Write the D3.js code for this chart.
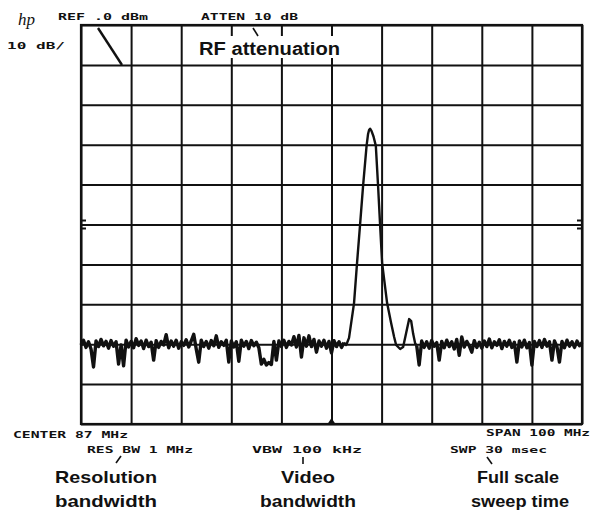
<!DOCTYPE html>
<html><head><meta charset="utf-8">
<script src="https://cdn.jsdelivr.net/npm/d3@7"></script>
<style>body{margin:0;background:#fff}</style>
</head><body>
<svg id="c" width="593" height="512"></svg>
<script>
// ---- data ----
const freqGrid = [37,47,57,67,77,87,97,107,117,127,137];          // MHz (center 87, span 100)
const levelGrid = [0,-10,-20,-30,-40,-50,-60,-70,-80,-90,-100];   // dBm, 10 dB/div
const noiseStep = 0.5;
const noiseLeftStart = 37;
const noiseLeft = [
  -80.2,-79.0,-80.8,-79.4,-81.2,-85.7,-79.2,-80.6,-78.8,-80.4,
  -79.3,-81.0,-79.1,-80.5,-79.4,-85.0,-80.2,-85.4,-79.0,-80.7,
  -79.3,-80.9,-78.6,-80.3,-79.2,-81.1,-79.0,-80.6,-79.5,-84.0,
  -79.1,-80.8,-79.3,-80.2,-77.6,-80.9,-79.2,-80.5,-79.0,-81.0,
  -79.4,-80.3,-78.9,-80.7,-79.2,-77.5,-81.2,-84.5,-79.0,-80.6,
  -79.3,-81.0,-79.1,-80.4,-77.9,-80.8,-79.4,-80.3,-79.0,-84.5,
  -79.2,-80.7,-79.4,-84.3,-79.0,-80.5,-79.3,-81.1,-79.1,-80.4,
  -79.5,-80.9,-85.0,-83.8,-85.2,-84.6,-85.1,-79.3,-84.0,-79.2,
  -80.6,-79.0,-80.8,-79.3,-80.2,-78.1,-80.7,-77.8,-83.2,-78.4,
  -80.5,-77.9,-80.6,-78.8,-82.0,-79.2,-80.5,-79.0,-81.0,-79.3,
  -82.2,-79.1,-80.6,-79.4,-80.8,-79.6
];
const peakFreqs  = [89.5, 89.9, 90.1, 90.5, 91.5, 92.1, 92.7, 93.3, 94.0, 94.3, 94.5, 94.7, 95.0, 95.4, 95.85, 96.3, 96.7, 97.1, 98.1, 98.9, 99.5, 99.9, 100.7, 101.3, 101.9, 102.5, 102.9, 103.3, 103.7, 104.0];
const peakLevels = [-79.6,-80.2,-79.7,-78.4,-69.7,-59.6,-50.1,-40.4,-30.3,-27.3,-26.3,-26.0,-26.6,-28.0,-30.3,-40.4,-50.1,-59.6,-69.7,-74.7,-78.2,-80.2,-81.2,-80.7,-77.2,-73.7,-74.2,-77.4,-79.8,-80.3];
const noiseRightStart = 104;
const noiseRight = [
  -80.3,-85.2,-79.2,-80.8,-79.4,-81.0,-79.1,-80.5,-79.6,-84.0,
  -79.3,-80.9,-79.0,-80.6,-79.4,-81.2,-78.8,-82.8,-78.2,-80.7,
  -79.3,-80.4,-82.0,-79.1,-80.8,-79.5,-81.0,-79.2,-80.6,-78.7,
  -80.9,-79.4,-80.3,-78.9,-81.1,-79.3,-80.5,-79.0,-80.8,-79.5,
  -84.5,-79.2,-80.7,-79.0,-80.9,-79.6,-85.2,-79.3,-80.6,-79.1,
  -80.8,-78.8,-80.5,-79.4,-84.0,-79.2,-80.6,-84.5,-79.3,-80.9,
  -79.0,-80.5,-79.4,-80.8,-79.2,-80.4,-79.6
];
const instrumentLabels = ["REF .0 dBm","ATTEN 10 dB","10 dB/","CENTER 87 MHz","SPAN 100 MHz","RES BW 1 MHz","VBW 100 kHz","SWP 30 msec"];
const annotationLines = [["Resolution","bandwidth"],["Video","bandwidth"],["Full scale","sweep time"]];
const topAnnotation = "RF attenuation";
const logo = "hp";

// ---- drawing ----
const svg = d3.select("#c");
const ink = "#111";
svg.append("rect").attr("width",593).attr("height",512).attr("fill","#fff");

const x = d3.scaleLinear().domain([37,137]).range([81,582]);
const y = d3.scaleLinear().domain([0,-100]).range([25,424]);

const grid = svg.append("g");
const gx = grid.append("g").attr("transform",`translate(0,${y(0)})`)
  .call(d3.axisTop(x).tickValues(freqGrid).tickSize(-(y(-100)-y(0))).tickFormat(""));
const gy = grid.append("g").attr("transform",`translate(${x(37)},0)`)
  .call(d3.axisLeft(y).tickValues(levelGrid).tickSize(-(x(137)-x(37))).tickFormat(""));
[gx,gy].forEach(g=>{
  g.select(".domain").remove();
  g.selectAll(".tick line").attr("stroke",ink).attr("stroke-width",2);
});
grid.append("rect").attr("x",x(37)).attr("y",y(0)).attr("width",x(137)-x(37)).attr("height",y(-100)-y(0))
  .attr("fill","none").attr("stroke",ink).attr("stroke-width",2.2);

// small ticks on left/right borders near center line
[-49,-51].forEach(l=>{
  grid.append("line").attr("x1",x(37)).attr("x2",x(37)+5).attr("y1",y(l)).attr("y2",y(l)).attr("stroke",ink).attr("stroke-width",2);
  grid.append("line").attr("x1",x(137)-5).attr("x2",x(137)).attr("y1",y(l)).attr("y2",y(l)).attr("stroke",ink).attr("stroke-width",2);
});
// center marker at bottom
const cx = x(87), by = y(-100);
svg.append("path").attr("d",`M${cx-4},${by}L${cx},${by-6}L${cx+4},${by}Z`).attr("fill",ink);

// diagonal decoration in first cell
svg.append("line").attr("x1",98).attr("y1",28).attr("x2",122).attr("y2",65).attr("stroke",ink).attr("stroke-width",2.4);

// trace
const line = d3.line().x(d=>x(d[0])).y(d=>y(d[1]));
const noiseL = noiseLeft.map((v,i)=>[noiseLeftStart+i*noiseStep,v]);
const noiseR = noiseRight.map((v,i)=>[noiseRightStart+i*noiseStep,v]);
const peak = peakFreqs.map((f,i)=>[f,peakLevels[i]]);
[noiseL,noiseR].forEach(seg=>{
  svg.append("path").datum(seg).attr("d",line)
    .attr("fill","none").attr("stroke",ink).attr("stroke-width",3.4).attr("stroke-linejoin","round");
});
svg.append("path").datum(peak).attr("d",line)
  .attr("fill","none").attr("stroke",ink).attr("stroke-width",2.4).attr("stroke-linejoin","round");

// instrument labels
const mono = "'DejaVu Sans Mono', monospace";
const labPos = [
  [58,20,90],[201,20,97],[7,49,58],[13,438,115],[486,436,104],[87,453,106],[252,453,110],[450,453,97]
];
instrumentLabels.forEach((t,i)=>{
  const [lx,ly,lw]=labPos[i];
  svg.append("text").attr("x",lx).attr("y",ly).text(t)
    .attr("font-family",mono).attr("font-weight","bold").attr("font-size",9.5)
    .attr("textLength",lw).attr("lengthAdjust","spacingAndGlyphs").attr("fill",ink);
});

// hp logo
svg.append("text").attr("x",18).attr("y",25).text(logo)
  .attr("font-family","'Liberation Serif', serif").attr("font-style","italic").attr("font-size",17).attr("fill",ink);

// RF attenuation with white backing
svg.append("rect").attr("x",195).attr("y",36).attr("width",150).attr("height",22).attr("fill","#fff");
svg.append("text").attr("x",199).attr("y",55).text(topAnnotation)
  .attr("font-family","'Liberation Sans', Arial, sans-serif").attr("font-weight","bold").attr("font-size",18)
  .attr("textLength",141).attr("lengthAdjust","spacingAndGlyphs").attr("fill",ink);
svg.append("line").attr("x1",253).attr("y1",28).attr("x2",258).attr("y2",36).attr("stroke",ink).attr("stroke-width",1.6);

// leaders at bottom
[[121,456,116,463],[303,457,303,464],[487,457,492,464]].forEach(l=>{
  svg.append("line").attr("x1",l[0]).attr("y1",l[1]).attr("x2",l[2]).attr("y2",l[3]).attr("stroke",ink).attr("stroke-width",1.6);
});

// bold annotations
const annPos = [[[106,483,102],[106,507,102]],[[308,483,54],[308,507,96]],[[518,483,82],[520,507,98]]];
annotationLines.forEach((lines,i)=>{
  lines.forEach((t,j)=>{
    const [ax,ay,aw]=annPos[i][j];
    svg.append("text").attr("x",ax).attr("y",ay).attr("text-anchor","middle").text(t)
      .attr("font-family","'Liberation Sans', Arial, sans-serif").attr("font-weight","bold").attr("font-size",17)
      .attr("textLength",aw).attr("lengthAdjust","spacingAndGlyphs").attr("fill",ink);
  });
});
</script>
</body></html>
